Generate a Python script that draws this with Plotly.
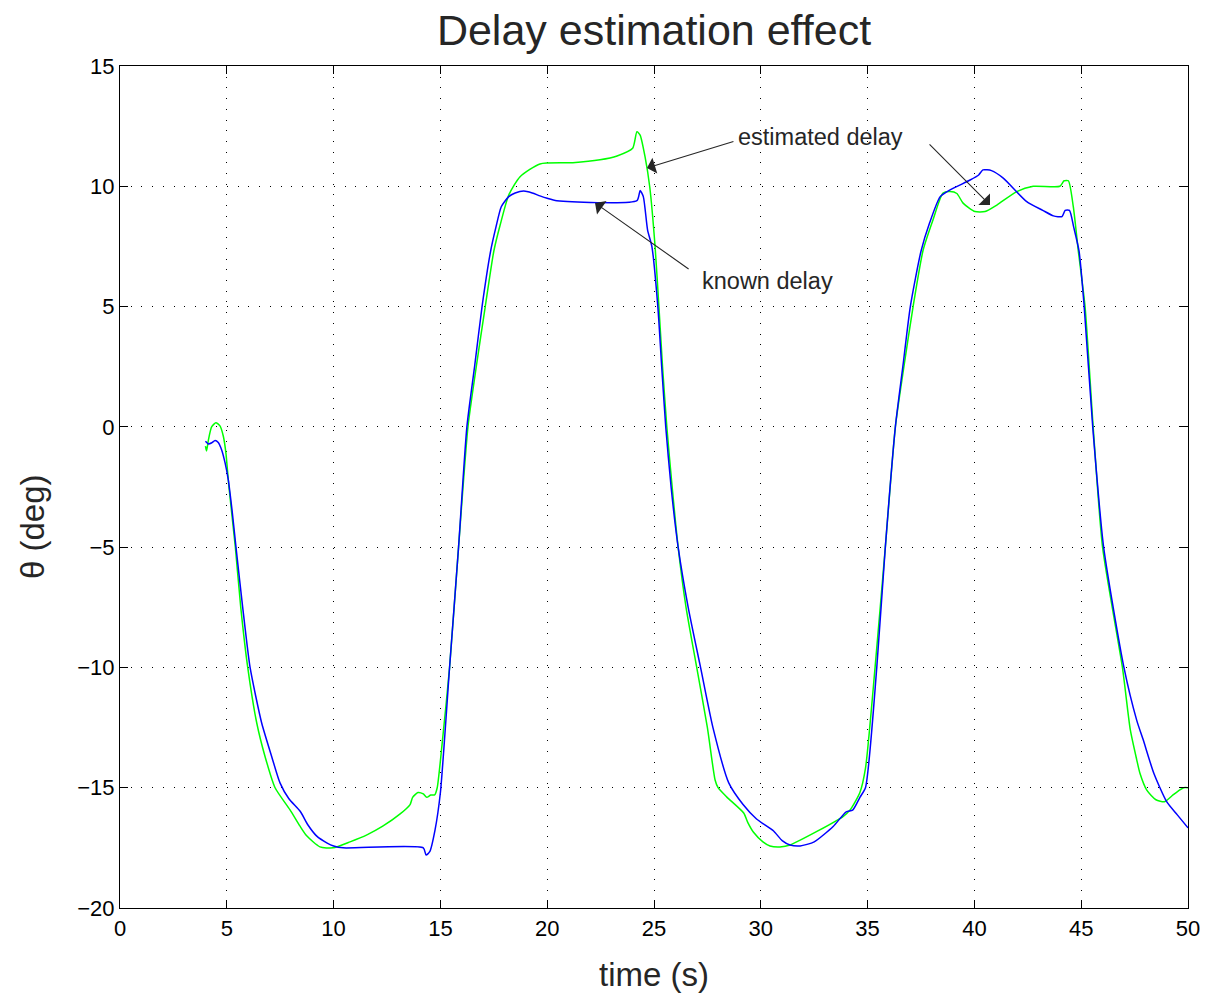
import plotly.graph_objects as go

# known delay (blue)
t_known = [4.0, 4.14, 4.3, 4.45, 4.6, 4.76, 4.92, 5.07, 5.25, 5.43, 5.74, 6.09, 6.63, 7.1, 7.49, 7.9, 8.45,
           8.8, 9.2, 9.7, 10.0, 10.45, 14.2, 14.33, 14.5, 14.75, 15.0, 15.43, 15.85, 16.24, 16.6, 16.95,
           17.35, 17.6, 17.85, 18.2, 18.5, 18.9, 19.3, 19.66, 20.0, 20.45, 24.2, 24.35, 24.5, 24.7, 24.9,
           25.18, 25.36, 25.55, 25.8, 26.13, 26.6, 27.18, 27.76, 28.5, 29.17, 29.8, 30.6, 31.0, 31.37, 31.84,
           32.5, 33.4, 34.0, 34.3, 34.64, 34.9, 35.43, 35.83, 36.3, 36.65, 37.0, 37.5, 37.9, 38.4, 38.86,
           39.8, 40.2, 40.4, 40.8, 41.35, 42.45, 43.2, 43.7, 44.1, 44.25, 44.45, 44.65, 44.9, 45.14, 45.54,
           46.05, 47.0, 47.6, 47.9, 48.4, 49.0, 49.5, 50.0]
y_known = [-0.6, -0.71, -0.66, -0.57, -0.65, -0.96, -1.5, -2.2, -3.5, -5.0, -7.47, -10.0, -12.3, -13.7, -14.8,
           -15.45, -16.0, -16.55, -17.0, -17.3, -17.42, -17.5, -17.5, -17.8, -17.66, -16.75, -15.2, -10.0, -5.0,
           0.0, 2.5, 5.0, 7.3, 8.3, 9.15, 9.57, 9.72, 9.8, 9.72, 9.6, 9.5, 9.4, 9.4, 9.82, 9.57, 8.18, 7.5,
           5.0, 2.5, 0.0, -2.5, -5.0, -7.5, -10.0, -12.5, -14.8, -15.7, -16.3, -16.8, -17.2, -17.38, -17.42,
           -17.25, -16.6, -16.0, -15.93, -15.4, -15.0, -10.0, -5.0, 0.0, 2.5, 5.0, 7.3, 8.47, 9.57, 9.85,
           10.26, 10.47, 10.68, 10.65, 10.34, 9.36, 9.0, 8.77, 8.74, 9.0, 9.0, 8.3, 7.3, 5.0, 0.0,
           -5.0, -10.0, -12.2, -13.0, -14.4, -15.58, -16.13, -16.67]

# estimated delay (green)
t_est = [4.0, 4.05, 4.14, 4.29, 4.49, 4.68, 4.84, 4.96, 5.1, 5.4, 5.65, 5.98, 6.4, 6.79, 7.26, 7.96, 8.43,
         8.74, 9.36, 9.97, 10.77, 11.56, 12.3, 13.1, 13.58, 13.7, 13.95, 14.2, 14.36, 14.55, 14.73, 14.85,
         15.1, 15.43, 15.85, 16.29, 16.68, 17.1, 17.5, 17.8, 18.2, 18.73, 19.66, 21.2, 22.47, 23.27, 24.0,
         24.2, 24.35, 24.58, 24.8, 25.05, 25.23, 25.4, 25.6, 25.85, 26.13, 26.5, 27.0, 27.5, 27.86, 28.0,
         28.4, 29.2, 29.4, 29.65, 30.1, 30.43, 30.9, 31.37, 33.85, 34.2, 34.64, 34.9, 35.35, 35.83, 36.3,
         36.7, 37.13, 37.6, 38.06, 38.53, 38.86, 39.18, 39.47, 40.03, 40.5, 41.05, 41.98, 42.75, 44.0,
         44.2, 44.4, 44.63, 44.86, 45.18, 45.56, 46.0, 46.93, 47.3, 47.6, 47.75, 48.07, 48.5, 48.9, 49.3,
         49.6, 49.8, 50.0]
y_est = [-0.8, -1.0, -0.54, 0.0, 0.17, 0.04, -0.4, -1.1, -2.5, -5.0, -7.47, -10.0, -12.3, -13.7, -15.0,
         -15.92, -16.6, -17.0, -17.46, -17.5, -17.25, -16.96, -16.6, -16.1, -15.7, -15.4, -15.2, -15.26,
         -15.4, -15.3, -15.3, -15.0, -13.0, -10.0, -5.0, 0.0, 2.5, 5.0, 7.3, 8.4, 9.64, 10.4, 10.93, 10.98,
         11.1, 11.26, 11.58, 12.27, 12.13, 11.23, 9.98, 7.5, 5.0, 2.5, 0.0, -2.5, -5.0, -7.5, -10.0, -12.5,
         -14.68, -15.0, -15.38, -16.05, -16.46, -16.84, -17.25, -17.42, -17.46, -17.38, -16.2, -15.9, -15.2,
         -14.2, -10.0, -5.0, 0.0, 2.5, 5.0, 7.35, 8.6, 9.72, 9.78, 9.7, 9.3, 8.95, 8.95, 9.22, 9.78, 10.0,
         10.0, 10.23, 10.23, 9.15, 7.35, 5.0, 0.0, -5.0, -10.0, -12.6, -13.84, -14.4, -15.1, -15.5, -15.58,
         -15.3, -15.1, -15.0, -15.0]

x_ticks = [0, 5, 10, 15, 20, 25, 30, 35, 40, 45, 50]
y_ticks = [-20, -15, -10, -5, 0, 5, 10, 15]

FONT = "Liberation Sans, Arial, Helvetica, sans-serif"
INK = "#262626"

W, H = 1207, 999   # body margin removed in the page (see post_script)
ML, MR, MT, MB = 120, 19, 66, 91
PW = W - ML - MR
PH = H - MT - MB

fig = go.Figure()
fig.add_trace(go.Scatter(x=t_est, y=y_est, mode="lines", name="estimated delay",
                         line=dict(color="#00ff00", width=1.5, shape="spline", smoothing=0.6),
                         showlegend=False))
fig.add_trace(go.Scatter(x=t_known, y=y_known, mode="lines", name="known delay",
                         line=dict(color="#0000ff", width=1.5, shape="spline", smoothing=0.6),
                         showlegend=False))

arrow_style = dict(showarrow=True, arrowhead=1, arrowsize=2.5, arrowwidth=1.1, arrowcolor=INK,
                   xref="x", yref="y", axref="x", ayref="y", text="")
# arrows: (tip x, tip y, tail x, tail y)
arrows = [(24.67, 10.76, 28.79, 11.88), (40.73, 9.22, 37.83, 11.8), (22.24, 9.31, 26.69, 6.52)]
for tx, ty, ax_, ay_ in arrows:
    fig.add_annotation(x=tx, y=ty, ax=ax_, ay=ay_, **arrow_style)

fig.add_annotation(x=28.85, y=12.05, text="estimated delay", showarrow=False, xanchor="left",
                   font=dict(family=FONT, size=23.5, color=INK))
fig.add_annotation(x=27.15, y=6.06, text="known delay", showarrow=False, xanchor="left",
                   font=dict(family=FONT, size=23.5, color=INK))

# y-axis label placed like the reference (slightly below the axis centre)
fig.add_annotation(x=(32 - ML) / PW, y=(H - MB - 527) / PH, xref="paper", yref="paper",
                   xanchor="center", yanchor="middle",
                   text="\u03b8 (deg)", textangle=-90, showarrow=False,
                   font=dict(family=FONT, size=33, color=INK))

fig.update_layout(
    width=W, height=H,
    margin=dict(l=ML, r=MR, t=MT, b=MB, autoexpand=False),
    paper_bgcolor="white", plot_bgcolor="white",
    font=dict(family=FONT, color=INK),
    title=dict(text="Delay estimation effect", xref="paper", x=0.5, xanchor="center",
               y=1 - 30 / H, yanchor="middle",
               font=dict(family=FONT, size=43, color=INK)),
)
axis_common = dict(showline=True, linecolor="black", linewidth=1.2, mirror="ticks",
                   ticks="inside", ticklen=8, tickcolor="black", automargin=False,
                   showgrid=True, gridcolor="black", griddash="1px,9.7px", gridwidth=1,
                   zeroline=False, tickfont=dict(family=FONT, size=22, color="black"))
fig.update_xaxes(range=[0, 50], tickvals=x_ticks, ticktext=[str(v) for v in x_ticks],
                 title=dict(text="time (s)", font=dict(family=FONT, size=33, color=INK), standoff=23),
                 **axis_common)
fig.update_yaxes(range=[-20, 15], tickvals=y_ticks,
                 ticktext=[("\u2212" + str(-v)) if v < 0 else str(v) for v in y_ticks],
                 **axis_common)

fig.write_html("out.html", config={"displayModeBar": False},
               post_script="document.body.style.margin='0px';")
